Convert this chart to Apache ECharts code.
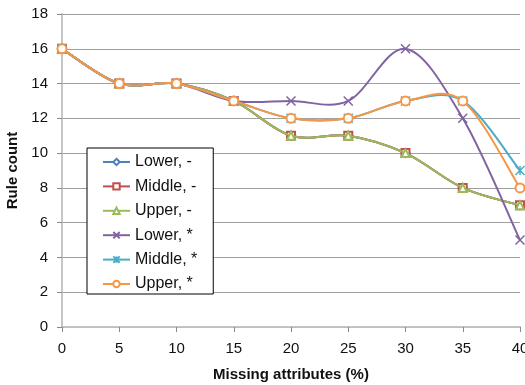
<!DOCTYPE html>
<html><head><meta charset="utf-8">
<script src="https://cdn.jsdelivr.net/npm/echarts@6/dist/echarts.min.js"></script>
<style>html,body{margin:0;padding:0;background:#fff}#c{width:525px;height:385px}</style>
</head><body><div id="c"></div>
<script>
const xValues = [0, 5, 10, 15, 20, 25, 30, 35, 40];
const seriesNames = ['Lower, -', 'Middle, -', 'Upper, -', 'Lower, *', 'Middle, *', 'Upper, *'];
const lowerDash  = [16, 14, 14, 13, 11, 11, 10, 8, 7];
const middleDash = [16, 14, 14, 13, 11, 11, 10, 8, 7];
const upperDash  = [16, 14, 14, 13, 11, 11, 10, 8, 7];
const lowerStar  = [16, 14, 14, 13, 13, 13, 16, 12, 5];
const middleStar = [16, 14, 14, 13, 12, 12, 13, 13, 9];
const upperStar  = [16, 14, 14, 13, 12, 12, 13, 13, 8];
const yTicks = [0, 2, 4, 6, 8, 10, 12, 14, 16, 18];

const allValues = [lowerDash, middleDash, upperDash, lowerStar, middleStar, upperStar];
const colors = ['#4F81BD', '#C0504D', '#9BBB59', '#8064A2', '#4BACC6', '#F79646'];
const symbols = ['emptyDiamond', 'emptyRect', 'emptyTriangle',
  'path://M0,0L10,10M10,0L0,10',
  'path://M0,0L10,10M10,0L0,10M5,0L5,10',
  'emptyCircle'];
const sizes = [8, 8, 8, 9, 9, 9];

function curveSeries(vals, i) {
  return {
    type: 'custom',
    name: 'curve' + i,
    silent: true,
    z: 2 + i * 2,
    data: vals.map((v, j) => [xValues[j], v]),
    encode: { x: 0, y: 1 },
    renderItem: function (params, api) {
      const k = params.dataIndex;
      const n = vals.length;
      if (k >= n - 1) return null;
      const P = idx => {
        const c = Math.max(0, Math.min(n - 1, idx));
        return api.coord([xValues[c], vals[c]]);
      };
      const p0 = P(k - 1), p1 = P(k), p2 = P(k + 1), p3 = P(k + 2);
      return {
        type: 'bezierCurve',
        shape: {
          x1: p1[0], y1: p1[1],
          cpx1: p1[0] + (p2[0] - p0[0]) / 6, cpy1: p1[1] + (p2[1] - p0[1]) / 6,
          cpx2: p2[0] - (p3[0] - p1[0]) / 6, cpy2: p2[1] - (p3[1] - p1[1]) / 6,
          x2: p2[0], y2: p2[1]
        },
        style: { stroke: colors[i], lineWidth: 2, fill: null }
      };
    }
  };
}

const series = [];
allValues.forEach((vals, i) => {
  series.push(curveSeries(vals, i));
  series.push({
    name: seriesNames[i],
    type: 'line',
    data: vals.map((v, j) => [xValues[j], v]),
    symbol: symbols[i],
    symbolSize: sizes[i],
    showAllSymbol: true,
    lineStyle: { color: colors[i], width: 2, opacity: 0 },
    itemStyle: { color: colors[i], borderColor: colors[i], borderWidth: 1.5 },
    emphasis: { disabled: true },
    z: 3 + i * 2
  });
});

const chart = echarts.init(document.getElementById('c'), null, { renderer: 'canvas' });
chart.setOption({
  animation: false,
  backgroundColor: '#fff',
  textStyle: { fontFamily: 'Liberation Sans, Arial, sans-serif' },
  grid: { left: 62, right: 5, top: 14, bottom: 58, containLabel: false, outerBoundsMode: 'none' },
  legend: {
    orient: 'vertical',
    left: 87, top: 148,
    data: seriesNames.map((nm, i) => ({
      name: nm,
      lineStyle: { color: colors[i], width: 2, opacity: 1 }
    })),
    backgroundColor: '#fff',
    borderColor: '#000',
    borderWidth: 1,
    borderRadius: 0,
    padding: [6, 16, 2, 15],
    itemWidth: 27,
    itemHeight: 8,
    itemGap: 8.4,
    textStyle: { fontSize: 16, color: '#111', fontFamily: 'Liberation Sans, Arial, sans-serif' }
  },
  xAxis: [{
    type: 'value', min: 0, max: 40, interval: 5,
    name: 'Missing attributes (%)', nameLocation: 'middle', nameGap: 40,
    nameTextStyle: { fontSize: 15, fontWeight: 'bold', color: '#111' },
    axisLine: { show: true, lineStyle: { color: '#888', width: 1.5 } },
    axisTick: { show: true, length: 5, lineStyle: { color: '#888' } },
    axisLabel: { fontSize: 15, color: '#111', margin: 14 },
    splitLine: { show: false }
  }, {
    type: 'value', min: 0, max: 40, interval: 5, position: 'top',
    axisLine: { show: true, lineStyle: { color: '#d0d0d0', width: 1.5 } },
    axisTick: { show: false }, axisLabel: { show: false }, splitLine: { show: false }
  }],
  yAxis: [{
    type: 'value', min: 0, max: 18, interval: 2,
    name: 'Rule count', nameLocation: 'middle', nameGap: 38,
    nameTextStyle: { fontSize: 15, fontWeight: 'bold', color: '#111' },
    axisLine: { show: true, lineStyle: { color: '#888', width: 1.5 } },
    axisTick: { show: true, length: 5, lineStyle: { color: '#888' } },
    axisLabel: { fontSize: 15, color: '#111', margin: 14 },
    splitLine: { show: true, lineStyle: { color: '#a0a0a0', width: 1 } }
  }, {
    type: 'value', min: 0, max: 18, interval: 2, position: 'right',
    axisLine: { show: true, lineStyle: { color: '#d0d0d0', width: 1.5 } },
    axisTick: { show: false }, axisLabel: { show: false }, splitLine: { show: false }
  }],
  series: series
});
</script></body></html>
